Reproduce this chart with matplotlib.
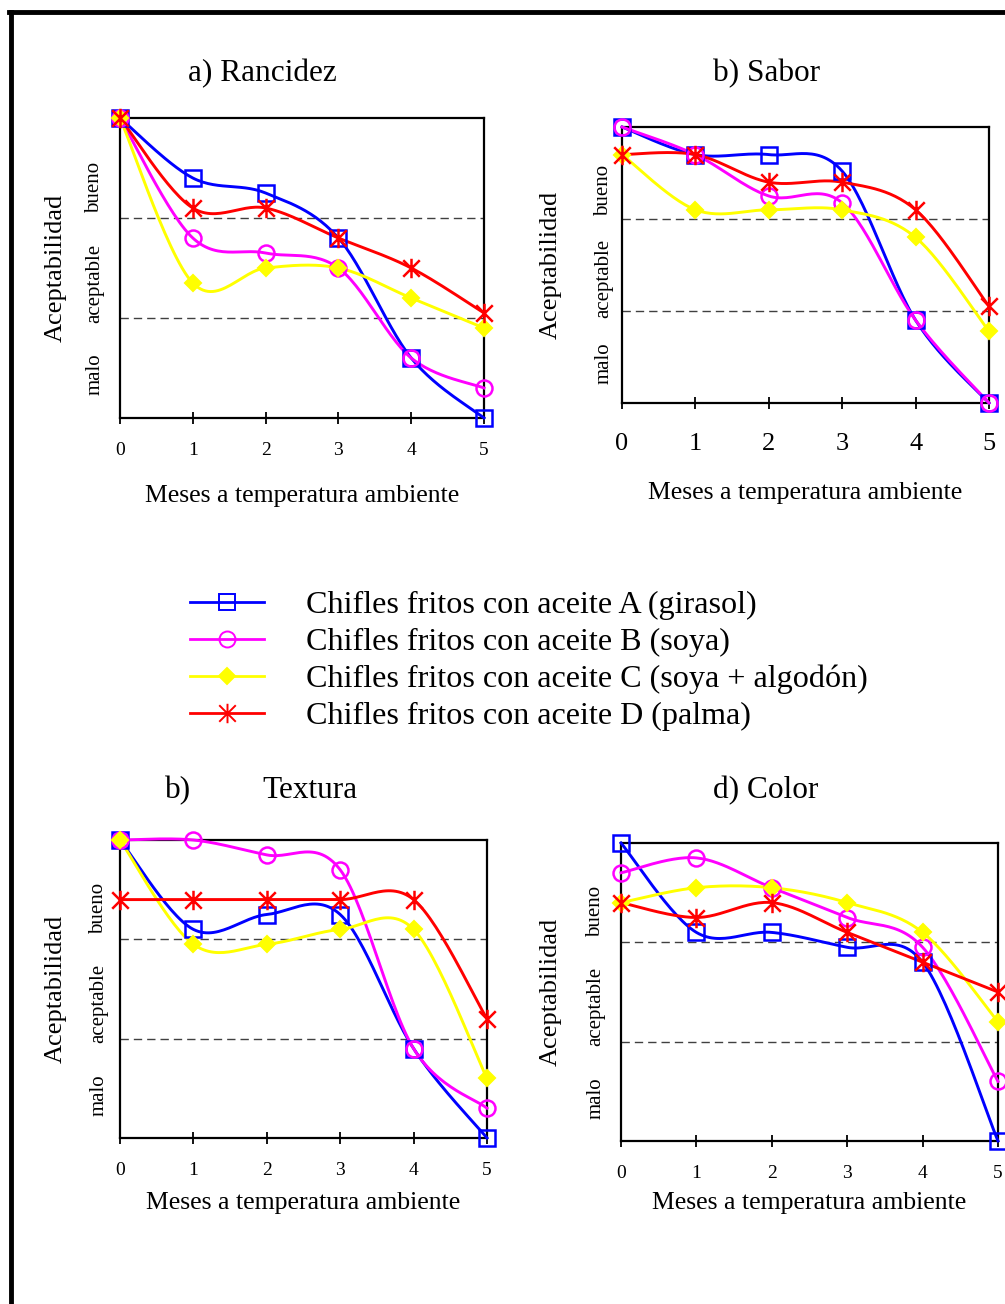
import numpy as np
import matplotlib
matplotlib.use("Agg")
import matplotlib.pyplot as plt
from matplotlib.path import Path
from matplotlib.lines import Line2D

plt.rcParams['font.family'] = ['Liberation Serif', 'DejaVu Serif']

# -------------------------------
# Data (escala 0-10: malo / aceptable / bueno)
# -------------------------------
meses = [0, 1, 2, 3, 4, 5]

rancidez_a = [10, 8, 7.5, 6, 2, 0]
rancidez_b = [10, 6, 5.5, 5, 2, 1]
rancidez_c = [10, 4.5, 5, 5, 4, 3]
rancidez_d = [10, 7, 7, 6, 5, 3.5]

sabor_a = [10, 9, 9, 8.4, 3, 0]
sabor_b = [10, 9, 7.5, 7.25, 3, 0]
sabor_c = [9, 7, 7, 7, 6, 2.6]
sabor_d = [9, 9, 8, 8, 7, 3.5]

textura_a = [10, 7, 7.5, 7.5, 3, 0]
textura_b = [10, 10, 9.5, 9, 3, 1]
textura_c = [10, 6.5, 6.5, 7, 7, 2]
textura_d = [8, 8, 8, 8, 8, 4]

color_a = [10, 7, 7, 6.5, 6, 0]
color_b = [9, 9.5, 8.5, 7.5, 6.5, 2]
color_c = [8, 8.5, 8.5, 8, 7, 4]
color_d = [8, 7.5, 8, 7, 6, 5]

categorias = ['bueno', 'aceptable', 'malo']
leyenda = ['Chifles fritos con aceite A (girasol)',
           'Chifles fritos con aceite B (soya)',
           'Chifles fritos con aceite C (soya + algodón)',
           'Chifles fritos con aceite D (palma)']

# -------------------------------
# Styles
# -------------------------------
asterisk = Path([(0, -1), (0, 1), (-0.85, -0.85), (0.85, 0.85), (-0.85, 0.85), (0.85, -0.85)],
                [Path.MOVETO, Path.LINETO] * 3)

styles = [
    dict(color='#0000ff', marker='s', ms=11, mfc='none', mec='#0000ff', mew=1.8),
    dict(color='#ff00ff', marker='o', ms=11.5, mfc='none', mec='#ff00ff', mew=1.8),
    dict(color='#ffff00', marker='D', ms=8.5, mfc='#ffff00', mec='#ffff00', mew=1.5),
    dict(color='#ff0000', marker=asterisk, ms=14, mfc='none', mec='#ff0000', mew=1.8),
]


def smooth(x, y, n=30):
    # Catmull-Rom (suavizado tipo Excel)
    x = np.asarray(x, float)
    y = np.asarray(y, float)
    px = np.concatenate([[x[0]], x, [x[-1]]])
    py = np.concatenate([[y[0]], y, [y[-1]]])
    xs, ys = [], []
    t = np.linspace(0, 1, n)
    for i in range(1, len(px) - 2):
        for p, out in ((px, xs), (py, ys)):
            p0, p1, p2, p3 = p[i - 1], p[i], p[i + 1], p[i + 2]
            c1 = p1 + (p2 - p0) / 6
            c2 = p2 - (p3 - p1) / 6
            out.extend((1 - t) ** 3 * p1 + 3 * (1 - t) ** 2 * t * c1 + 3 * (1 - t) * t ** 2 * c2 + t ** 3 * p2)
    return xs, ys


W, H = 1005, 1304
fig = plt.figure(figsize=(W / 100, H / 100), dpi=100)


def add_axes(L, T, R, B):
    return fig.add_axes([L / W, 1 - B / H, (R - L) / W, (B - T) / H])


panels = [
    # rect, series, tick size, tick pad, xlabel offset, ylabel offset, cat offset
    ((120, 118, 484, 418), [rancidez_a, rancidez_b, rancidez_c, rancidez_d], 14, 13, 78, 64, 25),
    ((622, 127, 989, 403), [sabor_a, sabor_b, sabor_c, sabor_d], 19, 17, 90, 71, 18),
    ((120, 840, 487, 1138), [textura_a, textura_b, textura_c, textura_d], 14, 13, 65, 64, 21),
    ((621, 843, 998, 1141), [color_a, color_b, color_c, color_d], 14, 13, 62, 70, 25),
]

for rect, series, tsize, tpad, xoff, yoff, coff in panels:
    L, T, R, B = rect
    ax = add_axes(L, T, R, B)
    wpx, hpx = R - L, B - T

    for lvl in (10 / 3, 20 / 3):
        ax.axhline(lvl, color='#404040', lw=1, dashes=(6, 3.6), zorder=1)

    for vals, st in zip(series, styles):
        xs, ys = smooth(meses, vals)
        ax.plot(xs, ys, color=st['color'], lw=2.1, clip_on=False, zorder=3)
        ax.plot(meses, vals, linestyle='none', marker=st['marker'], ms=st['ms'],
                mfc=st['mfc'], mec=st['mec'], mew=st['mew'], clip_on=False, zorder=4)

    ax.set_xlim(0, 5)
    ax.set_ylim(0, 10)
    ax.set_xticks(meses)
    ax.set_yticks([])
    ax.tick_params(axis='x', direction='inout', length=9, width=1.3,
                   labelsize=tsize, pad=tpad)
    for sp in ax.spines.values():
        sp.set_linewidth(1.6)

    ax.set_xlabel('Meses a temperatura ambiente', fontsize=18.5)
    ax.xaxis.set_label_coords(0.5, -xoff / hpx)
    ax.xaxis.label.set_va('center')
    ax.set_ylabel('Aceptabilidad', fontsize=19)
    ax.yaxis.set_label_coords(-yoff / wpx, 0.5)
    ax.yaxis.label.set_va('center')

    for cat, yc in zip(categorias, (7.7, 4.5, 1.45)):
        ax.annotate(cat, xy=(0, yc), xycoords=('axes fraction', 'data'),
                    xytext=(-coff * 0.72, 0), textcoords='offset points',
                    rotation=90, ha='center', va='center', fontsize=15)

# -------------------------------
# Titles
# -------------------------------
fig.text(262 / W, 1 - 74 / H, 'a) Rancidez', fontsize=22.5, ha='center', va='center')
fig.text(767 / W, 1 - 74 / H, 'b) Sabor', fontsize=22.5, ha='center', va='center')
fig.text(178 / W, 1 - 791 / H, 'b)', fontsize=22.5, ha='center', va='center')
fig.text(310 / W, 1 - 791 / H, 'Textura', fontsize=22.5, ha='center', va='center')
fig.text(766 / W, 1 - 791 / H, 'd) Color', fontsize=22.5, ha='center', va='center')

# -------------------------------
# Legend
# -------------------------------
handles = []
for st in styles:
    handles.append(Line2D([], [], color=st['color'], lw=2, marker=st['marker'],
                          ms=st['ms'], mfc=st['mfc'], mec=st['mec'], mew=1.4))
fig.legend(handles, leyenda, loc='upper left', bbox_to_anchor=(190 / W, 1 - 591 / H),
           frameon=False, fontsize=23.1, handlelength=2.3, handletextpad=1.3,
           labelspacing=0.23, borderpad=0, borderaxespad=0)

# -------------------------------
# Frame
# -------------------------------
fig.add_artist(Line2D([9 / W, 1], [1 - 12 / H, 1 - 12 / H], transform=fig.transFigure,
                      color='black', lw=3.5, solid_capstyle='projecting'))
fig.add_artist(Line2D([11 / W, 11 / W], [0, 1 - 12 / H], transform=fig.transFigure,
                      color='black', lw=3.5, solid_capstyle='projecting'))

fig.savefig('out.png', dpi=100)
